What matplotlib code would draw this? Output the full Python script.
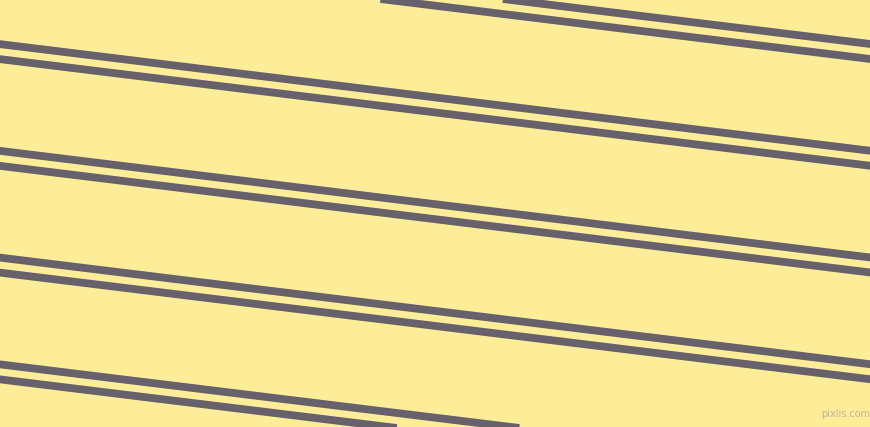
import numpy as np
import matplotlib
matplotlib.use("Agg")
import matplotlib.pyplot as plt

# canvas size in pixels
width, height = 870, 427

# stripe pairs: y of the upper stripe centre at x = 0, second stripe sits below it
upper_y0 = [-62.4, 44.3, 151.0, 257.7, 364.4]
pair_gap = 15.0
slope = 0.1225

background = "#fdec98"
stripe_color = "#67616b"


def main():
    fig = plt.figure(figsize=(width / 100 + 0.002, height / 100 + 0.002), dpi=100)
    ax = fig.add_axes([0, 0, 1, 1])
    ax.set_facecolor(background)
    fig.patch.set_facecolor(background)

    xs = np.array([-20, width + 20])
    for y0 in upper_y0:
        for off in (0.0, pair_gap):
            ax.plot(xs, y0 + off + slope * xs, color=stripe_color, lw=5.6,
                    solid_capstyle="butt")

    ax.text(845, 414, "pixlis.com", fontsize=7, color="#bdb69c",
            ha="center", va="center", family="DejaVu Sans")

    ax.set_xlim(0, width)
    ax.set_ylim(height, 0)
    ax.axis("off")
    fig.savefig("out.png", dpi=100, facecolor=background)


if __name__ == "__main__":
    main()
